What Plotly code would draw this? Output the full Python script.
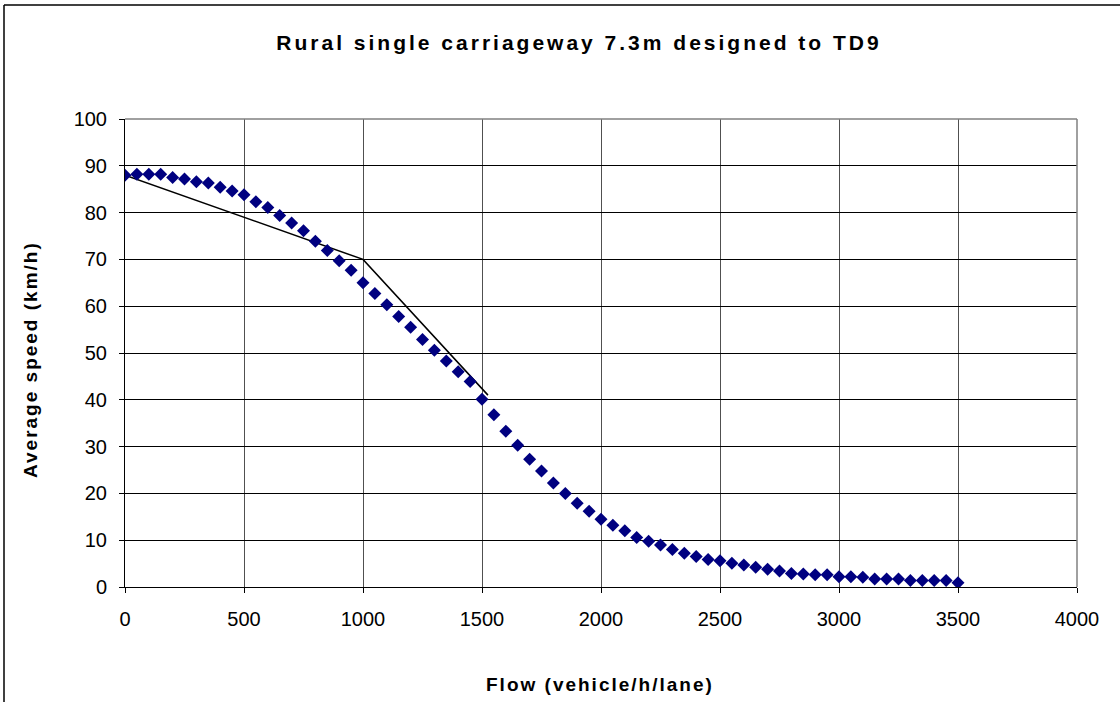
import plotly.graph_objects as go

# Speed-flow curve (markers)
flow = [0, 50, 100, 150, 200, 250, 300, 350, 400, 450,
        500, 550, 600, 650, 700, 750, 800, 850, 900, 950,
        1000, 1050, 1100, 1150, 1200, 1250, 1300, 1350, 1400, 1450,
        1500, 1550, 1600, 1650, 1700, 1750, 1800, 1850, 1900, 1950,
        2000, 2050, 2100, 2150, 2200, 2250, 2300, 2350, 2400, 2450,
        2500, 2550, 2600, 2650, 2700, 2750, 2800, 2850, 2900, 2950,
        3000, 3050, 3100, 3150, 3200, 3250, 3300, 3350, 3400, 3450,
        3500]
speed = [88.0, 88.2, 88.2, 88.2, 87.5, 87.2, 86.6, 86.3, 85.4, 84.6,
         83.8, 82.3, 81.1, 79.4, 77.8, 76.1, 73.9, 71.9, 69.7, 67.7,
         65.0, 62.7, 60.3, 57.8, 55.5, 52.9, 50.6, 48.3, 46.0, 43.9,
         40.1, 36.8, 33.3, 30.3, 27.3, 24.8, 22.2, 20.0, 17.9, 16.2,
         14.5, 13.2, 12.0, 10.6, 9.8, 9.0, 8.0, 7.2, 6.5, 5.9,
         5.6, 5.1, 4.7, 4.2, 3.8, 3.4, 2.9, 2.8, 2.6, 2.6,
         2.2, 2.2, 2.1, 1.7, 1.7, 1.7, 1.4, 1.4, 1.4, 1.4,
         0.9]

# TD9 piecewise line
td9_flow = [0, 1000, 1525]
td9_speed = [88, 70, 41]

FONT = "Liberation Sans, Arial, sans-serif"

fig = go.Figure()

fig.add_trace(go.Scatter(
    x=td9_flow, y=td9_speed,
    mode='lines',
    line=dict(color='black', width=1.5),
    showlegend=False,
    hoverinfo='skip'
))

fig.add_trace(go.Scatter(
    x=flow, y=speed,
    mode='markers',
    marker=dict(symbol='diamond', size=10, color='#000080', line=dict(width=0)),
    showlegend=False
))

# plot area in pixels
L, R, T, B = 125, 43, 119, 115
pw, ph = 1120 - L - R, 702 - T - B
px = lambda p: (p - L) / pw
py = lambda p: (702 - B - p) / ph

# L-shaped outer frame of the chart (top and left edges only)
fig.add_shape(type='line', xref='paper', yref='paper',
              x0=px(4), y0=py(5), x1=px(1125), y1=py(5),
              line=dict(color='black', width=1.5))
fig.add_shape(type='line', xref='paper', yref='paper',
              x0=px(4), y0=py(5), x1=px(4), y1=py(710),
              line=dict(color='black', width=1.5))

# gray border on top and right of plot area
fig.add_shape(type='line', xref='paper', yref='paper', x0=0, y0=1, x1=1, y1=1,
              line=dict(color='#808080', width=1.5))
fig.add_shape(type='line', xref='paper', yref='paper', x0=1, y0=0, x1=1, y1=1,
              line=dict(color='#808080', width=1.5))

# axis titles as annotations
fig.add_annotation(text='<span style="letter-spacing:2px"><b>Flow (vehicle/h/lane)</b></span>',
                   xref='paper', yref='paper', x=px(600), y=py(684),
                   xanchor='center', yanchor='middle', showarrow=False,
                   font=dict(family=FONT, size=19, color='black'))
fig.add_annotation(text='<span style="letter-spacing:2px"><b>Average speed (km/h)</b></span>',
                   xref='paper', yref='paper', x=px(30), y=py(360),
                   xanchor='center', yanchor='middle', showarrow=False, textangle=-90,
                   font=dict(family=FONT, size=19, color='black'))

fig.update_layout(
    title=dict(text='<span style="letter-spacing:3px"><b>Rural single carriageway 7.3m designed to TD9</b></span>',
               x=579 / 1120, xanchor='center', y=1 - 43 / 702, yanchor='middle',
               font=dict(family=FONT, size=21, color='black')),
    width=1120, height=702,
    margin=dict(l=L, r=R, t=T, b=B),
    paper_bgcolor='white', plot_bgcolor='white',
    font=dict(family=FONT, size=20, color='black'),
    xaxis=dict(
        range=[0, 4000], dtick=500, tick0=0,
        showgrid=True, gridcolor='#505050', gridwidth=1,
        zeroline=False,
        showline=True, linecolor='black', linewidth=1,
        ticks='outside', ticklen=5, tickcolor='black',
        ticklabelstandoff=9,
    ),
    yaxis=dict(
        range=[0, 100], dtick=10, tick0=0,
        showgrid=True, gridcolor='black', gridwidth=1,
        zeroline=False,
        showline=True, linecolor='black', linewidth=1,
        ticks='outside', ticklen=5, tickcolor='black',
        ticklabelstandoff=8,
    ),
)

fig.write_html("out.html", config={'displayModeBar': False},
               post_script="document.body.style.margin='0';")
